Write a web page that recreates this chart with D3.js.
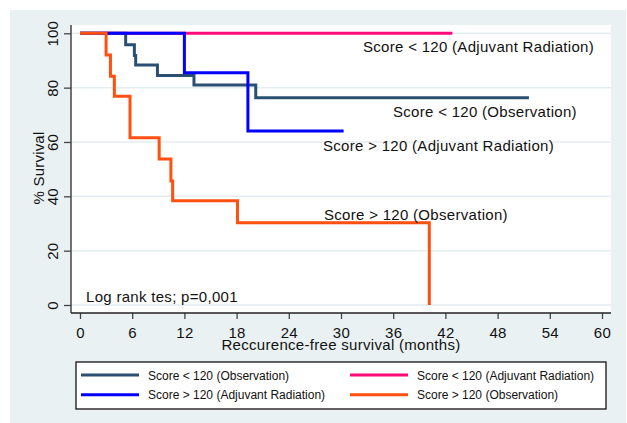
<!DOCTYPE html>
<html>
<head>
<meta charset="utf-8">
<script src="https://cdn.jsdelivr.net/npm/d3@7"></script>
<style>
  body { margin: 0; background: #fff; }
  text { font-family: "Liberation Sans", Arial, sans-serif; fill: #111; }
</style>
</head>
<body>
<div id="chart"></div>
<script>
// step data: months and % survival
var lowObsTime   = [0, 5.25, 6.25, 6.4, 8.9, 13.1, 20.2, 51.6];
var lowObsSurv   = [100, 95.8, 91.8, 88.3, 84.5, 81, 76.3, 76.3];

var lowRadTime   = [0, 42.8];
var lowRadSurv   = [100, 100];

var highRadTime  = [0, 12.0, 19.3, 30.3];
var highRadSurv  = [100, 85.5, 64, 64];

var highObsTime  = [0, 3.0, 3.5, 3.95, 5.75, 9.1, 10.45, 10.65, 18.1, 40.15, 40.15];
var highObsSurv  = [100, 92, 84.2, 76.8, 61.6, 53.7, 45.6, 38.4, 30.3, 30.3, 0];

var xTicks = [0, 6, 12, 18, 24, 30, 36, 42, 48, 54, 60];
var yTicks = [0, 20, 40, 60, 80, 100];

var seriesNames  = ["Score < 120 (Observation)", "Score < 120 (Adjuvant Radiation)",
                    "Score > 120 (Adjuvant Radiation)", "Score > 120 (Observation)"];
var seriesColors = ["#2b4f72", "#ff0a7a", "#0000ff", "#ff5010"];

var svgWidth = 627, svgHeight = 423;

var svg = d3.select("#chart").append("svg")
  .attr("width", svgWidth)
  .attr("height", svgHeight);

// outer graph region
svg.append("rect")
  .attr("x", 10).attr("y", 10)
  .attr("width", 616).attr("height", 413)
  .attr("fill", "#eaf1f3");

// plot region
var plot = {left: 71, right: 611, top: 25, bottom: 313};
svg.append("rect")
  .attr("x", plot.left).attr("y", plot.top)
  .attr("width", plot.right - plot.left).attr("height", plot.bottom - plot.top)
  .attr("fill", "#fff");

var x = d3.scaleLinear().domain([0, 60]).range([80, 602]);
var y = d3.scaleLinear().domain([0, 100]).range([305, 33.3]);

// grid lines
svg.append("g").selectAll("line").data(yTicks).enter().append("line")
  .attr("x1", plot.left).attr("x2", plot.right)
  .attr("y1", d => y(d)).attr("y2", d => y(d))
  .attr("stroke", "#e4edf0")
  .attr("stroke-width", 1.5);

// axes
var leftAxis = d3.axisLeft(y).tickValues(yTicks).tickSize(7).tickSizeOuter(0);
var bottomAxis = d3.axisBottom(x).tickValues(xTicks).tickSize(6).tickSizeOuter(0);

var gy = svg.append("g").attr("transform", `translate(${plot.left},0)`).call(leftAxis);
gy.select(".domain").remove();
gy.selectAll(".tick line").attr("stroke", "#444").attr("stroke-width", 1.3);
gy.selectAll(".tick text")
  .attr("transform", "rotate(-90)")
  .attr("x", 0).attr("y", -13.5).attr("dy", 0)
  .attr("text-anchor", "middle")
  .style("font-size", "15px").style("letter-spacing", "0.2px")
  .attr("fill", "#111");

var gx = svg.append("g").attr("transform", `translate(0,${plot.bottom})`).call(bottomAxis);
gx.select(".domain").remove();
gx.selectAll(".tick line").attr("stroke", "#444").attr("stroke-width", 1.3);
gx.selectAll(".tick text")
  .attr("y", 24.5).attr("dy", 0)
  .style("font-size", "15px").style("letter-spacing", "0.3px")
  .attr("fill", "#111");

svg.append("line")
  .attr("x1", plot.left).attr("x2", plot.left)
  .attr("y1", plot.top).attr("y2", plot.bottom)
  .attr("stroke", "#444").attr("stroke-width", 1.5);
svg.append("line")
  .attr("x1", plot.left).attr("x2", plot.right)
  .attr("y1", plot.bottom).attr("y2", plot.bottom)
  .attr("stroke", "#222").attr("stroke-width", 1.5);

// axis titles
svg.append("text")
  .attr("x", 341).attr("y", 350)
  .attr("text-anchor", "middle")
  .style("font-size", "15px").style("letter-spacing", "0.3px")
  .text("Reccurence-free survival (months)");

svg.append("text")
  .attr("transform", "translate(43.5,168) rotate(-90)")
  .attr("text-anchor", "middle")
  .style("font-size", "15px").style("letter-spacing", "0.2px")
  .text("% Survival");

// survival curves
var stepLine = d3.line()
  .x(d => x(d[0]))
  .y(d => y(d[1]))
  .curve(d3.curveStepAfter);

var curves = [
  d3.zip(lowRadTime, lowRadSurv),
  d3.zip(lowObsTime, lowObsSurv),
  d3.zip(highRadTime, highRadSurv),
  d3.zip(highObsTime, highObsSurv)
];
var curveColors = [seriesColors[1], seriesColors[0], seriesColors[2], seriesColors[3]];

svg.append("g").selectAll("path").data(curves).enter().append("path")
  .attr("d", stepLine)
  .attr("fill", "none")
  .attr("stroke", (d, i) => curveColors[i])
  .attr("stroke-width", 3);

// annotations
var notes = [
  {t: "Score < 120 (Adjuvant Radiation)", x: 363, y: 51.5},
  {t: "Score < 120 (Observation)", x: 393, y: 117},
  {t: "Score > 120 (Adjuvant Radiation)", x: 323, y: 150.5},
  {t: "Score > 120 (Observation)", x: 324, y: 219.5},
  {t: "Log rank tes; p=0,001", x: 86, y: 301.5}
];
svg.append("g").selectAll("text").data(notes).enter().append("text")
  .attr("x", d => d.x).attr("y", d => d.y)
  .style("font-size", "15px").style("letter-spacing", "0.3px")
  .text(d => d.t);

// legend
var legend = svg.append("g");
legend.append("rect")
  .attr("x", 76).attr("y", 362)
  .attr("width", 530).attr("height", 47)
  .attr("fill", "#fff")
  .attr("stroke", "#111").attr("stroke-width", 1.3);

var legendPos = [
  {lx: 81, ly: 375, tx: 148, ty: 379.5},
  {lx: 350, ly: 375, tx: 417, ty: 379.5},
  {lx: 81, ly: 394.7, tx: 148, ty: 398.7},
  {lx: 350, ly: 394.7, tx: 417, ty: 398.7}
];
var items = legend.selectAll("g").data(seriesNames).enter().append("g");
items.append("line")
  .attr("x1", (d, i) => legendPos[i].lx).attr("x2", (d, i) => legendPos[i].lx + 58)
  .attr("y1", (d, i) => legendPos[i].ly).attr("y2", (d, i) => legendPos[i].ly)
  .attr("stroke", (d, i) => seriesColors[i])
  .attr("stroke-width", 3);
items.append("text")
  .attr("x", (d, i) => legendPos[i].tx).attr("y", (d, i) => legendPos[i].ty)
  .style("font-size", "12px")
  .text(d => d);
</script>
</body>
</html>
